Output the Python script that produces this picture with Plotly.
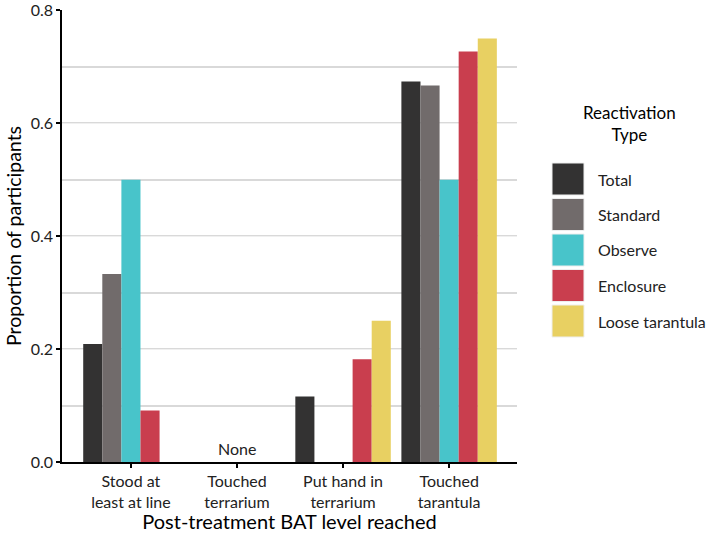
import plotly.graph_objects as go

categories = ["Stood at<br>least at line", "Touched<br>terrarium", "Put hand in<br>terrarium", "Touched<br>tarantula"]
series_names = ["Total", "Standard", "Observe", "Enclosure", "Loose tarantula"]
total = [0.209, 0.0, 0.116, 0.674]
standard = [0.333, 0.0, 0.0, 0.667]
observe = [0.5, 0.0, 0.0, 0.5]
enclosure = [0.091, 0.0, 0.182, 0.727]
loose = [0.0, 0.0, 0.25, 0.75]
values = [total, standard, observe, enclosure, loose]
colors = ["#333232", "#716b6b", "#48c4ca", "#c93e4e", "#e8d062"]
y_ticks = [0.0, 0.2, 0.4, 0.6, 0.8]

FONT = "Lato"
L, R, T, B = 62, 517, 10, 462
PW, PH = R - L, B - T

fig = go.Figure()
for name, vals, col in zip(series_names, values, colors):
    fig.add_trace(go.Bar(name=name, x=categories, y=vals, marker=dict(color=col, line=dict(width=0)),
                         showlegend=False))

fig.update_layout(
    width=708, height=533,
    margin=dict(l=L, r=708 - R, t=T, b=533 - B),
    barmode="group", bargap=0.1, bargroupgap=0,
    plot_bgcolor="white", paper_bgcolor="white",
    font=dict(family=FONT, size=16, color="#222222"),
)
fig.update_xaxes(
    range=[-0.65, 3.64], showline=True, linecolor="black", linewidth=1.5,
    ticks="outside", ticklen=4, tickcolor="black", tickwidth=1.5,
    showgrid=False, tickfont=dict(size=16, color="#222222"), automargin=False,
    title=dict(text="Post-treatment BAT level reached", font=dict(size=20, color="black"), standoff=4),
)
fig.update_yaxes(
    range=[0, 0.8005], tickvals=y_ticks, ticktext=[f"{v:.1f}" for v in y_ticks],
    showline=True, linecolor="black", linewidth=1.5, ticklabeloverflow="allow",
    ticks="outside", ticklen=4, tickcolor="black", tickwidth=1.5,
    showgrid=True, gridcolor="#f0f0f0", gridwidth=1,
    minor=dict(dtick=0.1, tick0=0.1, showgrid=True, gridcolor="#d9d9d9", gridwidth=1.5, ticks=""),
    zeroline=False, tickfont=dict(size=16, color="#222222"), automargin=False,
    title=dict(text="Proportion of participants", font=dict(size=19.5, color="black"), standoff=4),
)

fig.add_annotation(x=categories[1], y=0, text="None", showarrow=False, yanchor="bottom", yshift=2,
                   font=dict(size=16, color="#222222"))

# custom legend
def px_x(x):
    return (x - L) / PW

def px_y(y):
    return (B - y) / PH

fig.add_annotation(xref="paper", yref="paper", x=px_x(629), y=px_y(100),
                   text="Reactivation<br>Type", showarrow=False, xanchor="center", yanchor="top",
                   align="center", font=dict(size=17, color="black"))
key_top = 163
step = 35.5
for i, (name, col) in enumerate(zip(series_names, colors)):
    y0 = key_top + i * step
    y1 = y0 + 32
    fig.add_shape(type="rect", xref="paper", yref="paper",
                  x0=px_x(552), x1=px_x(584), y0=px_y(y1), y1=px_y(y0),
                  fillcolor=col, line=dict(width=1, color="#eeeeee"))
    fig.add_annotation(xref="paper", yref="paper", x=px_x(596), y=px_y(y0 + 16),
                       text=name, showarrow=False, xanchor="left", yanchor="middle",
                       font=dict(size=16, color="#222222"))

fig.write_html("out.html", config={"displayModeBar": False},
               post_script="document.body.style.margin='0';document.body.style.overflow='hidden';")
